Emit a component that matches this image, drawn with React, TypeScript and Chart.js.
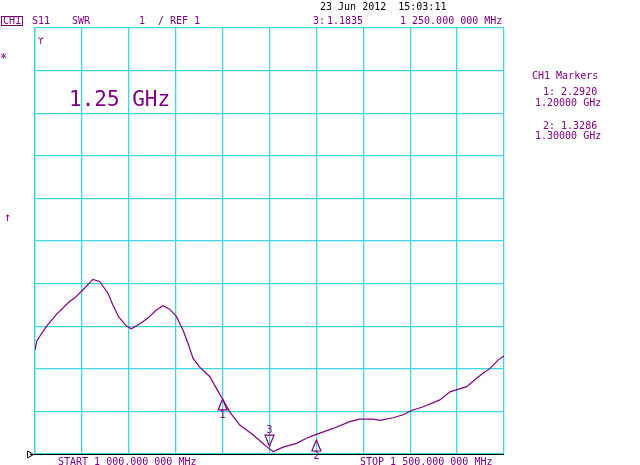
import React, { useEffect, useRef } from "react";
import { Chart, registerables } from "chart.js";

Chart.register(...registerables);

// Frequency (MHz) and SWR trace values
const freqMHz = [
  1000, 1002, 1012, 1022.6, 1036.8, 1042.2, 1051, 1061.7, 1068.8, 1077.7, 1083,
  1089.4, 1097.3, 1102.7, 1111.5, 1120.4, 1129.3, 1136.4, 1143.5, 1150.7, 1157.7,
  1163.1, 1168.4, 1175.6, 1186.2, 1193.4, 1200, 1207.6, 1218.3, 1232.4, 1244.9,
  1250, 1254, 1264.5, 1278.8, 1289.4, 1300, 1317.8, 1335.6, 1346.3, 1360.5,
  1367.7, 1381.8, 1392.5, 1401.5, 1413.9, 1431.7, 1442.4, 1460.2, 1470.9, 1477.9,
  1485.1, 1493.9, 1500,
];
const swrValues = [
  3.44, 3.66, 3.99, 4.27, 4.58, 4.66, 4.85, 5.1, 5.05, 4.78, 4.5, 4.21, 4.01,
  3.94, 4.05, 4.19, 4.38, 4.48, 4.4, 4.23, 3.91, 3.6, 3.25, 3.04, 2.82, 2.54,
  2.29, 1.99, 1.68, 1.45, 1.21, 1.12, 1.06, 1.16, 1.25, 1.37, 1.46, 1.6, 1.76,
  1.82, 1.82, 1.79, 1.85, 1.92, 2.02, 2.11, 2.27, 2.46, 2.58, 2.78, 2.9, 3.01,
  3.21, 3.3,
];

// Markers
const markerIds = ["1", "2", "3"];
const markerFreqs = [1200, 1300, 1250];
const markerSwr = [2.292, 1.3286, 1.1835];
const markerPointsUp = [true, true, false];

// Axis settings
const startMHz = 1000;
const stopMHz = 1500;
const freqStep = 50;
const swrRef = 1;
const swrTop = 11;
const swrPerDiv = 1;

const PURPLE = "#800080";
const GRID = "#40d8dc";
const MONO = "'DejaVu Sans Mono', monospace";

const overlayPlugin = {
  id: "overlay",
  afterDraw(chart: any) {
    const ctx = chart.ctx as CanvasRenderingContext2D;
    const xs = chart.scales.x;
    const ys = chart.scales.y;
    const area = chart.chartArea;
    ctx.save();
    ctx.textBaseline = "middle";
    ctx.textAlign = "left";

    // bottom black reference line
    ctx.strokeStyle = "#000";
    ctx.lineWidth = 1.2;
    ctx.beginPath();
    ctx.moveTo(30, Math.round(area.bottom) + 0.5);
    ctx.lineTo(area.right, Math.round(area.bottom) + 0.5);
    ctx.stroke();
    // reference arrow ▷
    ctx.lineWidth = 1;
    ctx.beginPath();
    ctx.moveTo(27.5, area.bottom - 3);
    ctx.lineTo(33.5, area.bottom + 0.5);
    ctx.lineTo(27.5, area.bottom + 4);
    ctx.closePath();
    ctx.stroke();

    // date line
    ctx.fillStyle = "#000";
    ctx.font = `10px ${MONO}`;
    ctx.fillText("23 Jun 2012  15:03:11", 320, 7);

    // header
    ctx.fillStyle = PURPLE;
    ctx.strokeStyle = PURPLE;
    ctx.strokeRect(1.5, 16.5, 21, 9);
    ctx.fillText("CH1", 3, 21.5);
    ctx.fillText("S11", 32, 21.5);
    ctx.fillText("SWR", 72, 21.5);
    ctx.fillText("1", 139, 21.5);
    ctx.fillText("/ REF 1", 158, 21.5);
    ctx.fillText("3:", 313, 21.5);
    ctx.fillText(markerSwr[2].toFixed(4), 327, 21.5);
    ctx.fillText("1 250.000 000 MHz", 400, 21.5);

    // markers panel
    ctx.fillText("CH1 Markers", 532, 76);
    ctx.fillText(`1: ${markerSwr[0].toFixed(4)}`, 543, 92.5);
    ctx.fillText(`${(markerFreqs[0] / 1000).toFixed(5)} GHz`, 535, 103);
    ctx.fillText(`2: ${markerSwr[1].toFixed(4)}`, 543, 126);
    ctx.fillText(`${(markerFreqs[1] / 1000).toFixed(5)} GHz`, 535, 136);

    // left symbols
    ctx.font = `12px ${MONO}`;
    ctx.fillText("*", 0, 59);
    ctx.fillText("↑", 4, 218);
    ctx.font = `9px ${MONO}`;
    ctx.fillText("ϒ", 38, 42);

    // big frequency annotation
    ctx.font = `21px ${MONO}`;
    ctx.fillText("1.25 GHz", 69, 101);

    // bottom labels
    ctx.font = `10px ${MONO}`;
    ctx.fillText("START 1 000.000 000 MHz", 58, 462);
    ctx.fillText("STOP 1 500.000 000 MHz", 360, 462);

    // marker triangles
    ctx.lineWidth = 1.2;
    markerIds.forEach((id, i) => {
      const px = xs.getPixelForValue(markerFreqs[i]);
      const py = ys.getPixelForValue(markerSwr[i]);
      ctx.beginPath();
      ctx.textAlign = "center";
      if (markerPointsUp[i]) {
        ctx.moveTo(px, py);
        ctx.lineTo(px - 4.5, py + 11);
        ctx.lineTo(px + 4.5, py + 11);
        ctx.closePath();
        ctx.stroke();
        ctx.fillText(id, px, py + 16);
      } else {
        ctx.moveTo(px, py);
        ctx.lineTo(px - 4.5, py - 11);
        ctx.lineTo(px + 4.5, py - 11);
        ctx.closePath();
        ctx.stroke();
        ctx.fillText(id, px, py - 16);
      }
    });
    ctx.restore();
  },
};

export default function App() {
  const canvasRef = useRef<HTMLCanvasElement | null>(null);

  useEffect(() => {
    if (!canvasRef.current) return;
    const chart = new Chart(canvasRef.current, {
      type: "line",
      data: {
        datasets: [
          {
            data: freqMHz.map((f, i) => ({ x: f, y: swrValues[i] })),
            borderColor: PURPLE,
            borderWidth: 1.2,
            pointRadius: 0,
            tension: 0,
            fill: false,
          },
        ],
      },
      options: {
        responsive: false,
        animation: false,
        events: [],
        layout: { padding: { left: 35, top: 28, right: 136, bottom: 11 } },
        plugins: {
          legend: { display: false },
          tooltip: { enabled: false },
          title: { display: false },
        },
        scales: {
          x: {
            type: "linear",
            min: startMHz,
            max: stopMHz,
            ticks: { display: false, stepSize: freqStep, autoSkip: false },
            grid: { color: GRID, lineWidth: 1.3, drawTicks: false },
            border: { color: GRID, width: 1.3 },
          },
          y: {
            type: "linear",
            min: swrRef,
            max: swrTop,
            ticks: { display: false, stepSize: swrPerDiv, autoSkip: false },
            grid: { color: GRID, lineWidth: 1.3, drawTicks: false },
            border: { color: GRID, width: 1.3 },
          },
        },
      },
      plugins: [overlayPlugin],
    });
    return () => chart.destroy();
  }, []);

  return (
    <div style={{ position: "fixed", left: 0, top: 0, width: 640, height: 465, background: "#fff" }}>
      <canvas ref={canvasRef} width={640} height={465} style={{ display: "block" }} />
    </div>
  );
}
